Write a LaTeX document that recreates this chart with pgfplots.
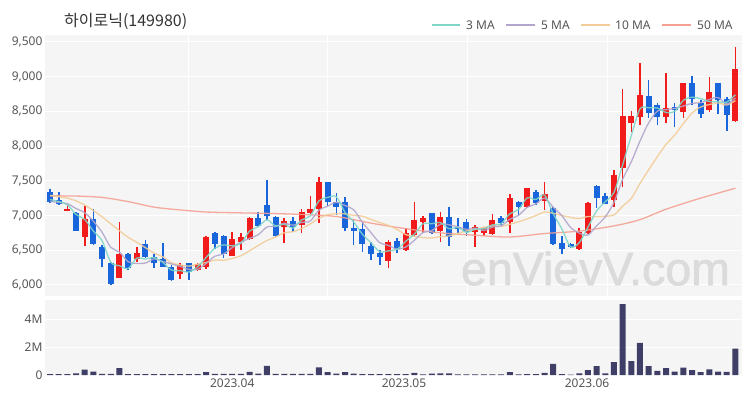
\documentclass[border=0pt]{standalone}
\usepackage{pgfplots}
\pgfplotsset{compat=1.18}
\usepackage{pgfplotstable}
\usepackage{fontspec}
\setmainfont{Noto Sans}
\newfontfamily\krfont{Noto Sans CJK KR}
\newfontfamily\wmfont[FakeBold=1.5]{Liberation Sans}

\definecolor{bgc}{HTML}{F5F5F5}
\definecolor{upc}{HTML}{F21B1B}
\definecolor{dnc}{HTML}{1865DC}
\definecolor{volc}{HTML}{3E3E66}
\definecolor{ma3}{HTML}{7FD6C8}
\definecolor{ma5}{HTML}{B2A6CC}
\definecolor{ma10}{HTML}{F2CC96}
\definecolor{ma50}{HTML}{F4A193}
\definecolor{txt}{HTML}{555555}

% rising days (red)
\pgfplotstableread{
i o h l c
3 7062 7157 7062 7100
5 6696 7138 6567 6947
9 6097 6904 6097 6443
11 6371 6544 6336 6466
16 6155 6313 6083 6289
18 6217 6310 6200 6299
19 6264 6700 6231 6696
22 6418 6768 6418 6659
23 6624 6754 6505 6696
24 6659 6985 6640 6970
28 6832 6961 6610 6922
30 6865 7091 6754 7056
31 7033 7282 7020 7091
32 7091 7560 6898 7488
40 6351 6649 6241 6624
42 6505 6817 6490 6745
43 6721 7192 6700 6937
44 6904 6994 6754 6961
46 6783 7056 6624 6984
50 6768 6865 6552 6840
51 6745 6840 6710 6817
52 6735 7023 6721 6937
54 6912 7311 6754 7249
56 7128 7393 7110 7393
58 7210 7488 7081 7311
62 6515 6817 6505 6768
63 6745 7200 6735 7177
66 7225 7657 7128 7585
67 7681 8819 7416 8434
68 8329 8511 8208 8434
69 8424 9193 8305 8737
72 8416 9058 8329 8545
74 8496 8914 8401 8914
77 8521 8992 8496 8784
80 8367 9424 8352 9107
}\upt

% falling days (blue)
\pgfplotstableread{
i o h l c
1 7344 7383 7182 7200
2 7225 7340 7153 7163
4 7042 7057 6783 6783
6 6947 7091 6572 6591
7 6552 6570 6264 6371
8 6313 6330 6001 6015
10 6443 6460 6217 6250
12 6591 6649 6385 6400
13 6408 6443 6250 6313
14 6371 6610 6256 6256
15 6264 6280 6060 6073
17 6313 6320 6073 6192
20 6754 6768 6519 6591
21 6706 6720 6385 6440
25 6961 7056 6832 6850
26 7153 7513 6937 6994
27 6984 6990 6690 6706
29 6927 6984 6768 6832
33 7488 7488 7138 7200
34 7200 7321 7009 7120
35 7200 7264 6783 6817
36 6817 6947 6577 6783
37 6803 6912 6480 6591
38 6562 6624 6361 6447
39 6457 6505 6289 6400
41 6639 6673 6457 6515
45 7033 7040 6730 6745
47 6976 7120 6562 6696
48 6840 6961 6745 6803
49 6912 6947 6706 6768
53 6961 6990 6870 6889
55 7200 7210 7009 7120
57 7344 7360 7150 7177
59 7105 7120 6580 6591
60 6610 6706 6447 6515
61 6591 6600 6530 6544
64 7426 7440 7105 7249
65 7282 7330 7160 7167
70 8722 8953 8401 8482
71 8593 8617 8305 8424
73 8568 8626 8280 8521
75 8914 9010 8593 8675
76 8617 8665 8401 8463
78 8905 8910 8463 8665
79 8675 8704 8223 8449
}\dnt

\pgfplotstableread{
i m3 m5 m10
1 7230 7200 7290
2 7200 7190 7270
3 7154 7170 7250
4 7015 7100 7210
5 6943 7039 7150
6 6774 6917 7070
7 6636 6758 6980
8 6326 6541 6880
9 6276 6473 6780
10 6236 6334 6686
11 6386 6309 6613
12 6372 6315 6537
13 6393 6374 6458
14 6323 6337 6405
15 6214 6302 6318
16 6206 6266 6288
17 6185 6225 6270
18 6260 6222 6298
19 6396 6310 6323
20 6529 6413 6358
21 6576 6444 6355
22 6563 6537 6381
23 6598 6616 6419
24 6775 6671 6491
25 6839 6723 6568
26 6938 6834 6639
27 6850 6843 6690
28 6874 6888 6752
29 6820 6861 6766
30 6937 6902 6813
31 6993 6921 6878
32 7212 7078 6961
33 7260 7133 7011
34 7269 7191 7026
35 7046 7143 7023
36 6907 7082 7002
37 6730 6902 6990
38 6607 6752 6943
39 6479 6608 6899
40 6490 6569 6856
41 6513 6515 6799
42 6628 6546 6724
43 6732 6644 6698
44 6881 6756 6682
45 6881 6781 6675
46 6897 6874 6695
47 6808 6865 6705
48 6828 6838 6741
49 6756 6799 6778
50 6804 6818 6799
51 6808 6785 6830
52 6865 6833 6849
53 6881 6850 6844
54 7025 6946 6873
55 7086 7002 6910
56 7254 7118 6951
57 7230 7166 6999
58 7294 7250 7050
59 7026 7118 7032
60 6806 6997 7000
61 6550 6828 6973
62 6609 6746 6956
63 6830 6719 6985
64 7065 6851 6985
65 7198 6981 6989
66 7334 7189 7008
67 7729 7522 7134
68 8151 7774 7246
69 8535 8071 7461
70 8551 8334 7658
71 8548 8502 7846
72 8484 8524 8023
73 8497 8542 8158
74 8660 8577 8324
75 8703 8616 8475
76 8684 8624 8563
77 8641 8671 8598
78 8637 8700 8621
79 8633 8607 8592
80 8740 8694 8655
}\mat

\pgfplotstableread{
i m50
1 7282
4 7280
7 7260
10 7200
13 7120
16 7080
19 7050
22 7040
26 7030
30 7015
34 6985
38 6890
42 6810
46 6750
50 6715
54 6690
58 6740
62 6775
66 6850
69 6940
72 7090
76 7250
80 7393
}\mafifty

% volume in millions
\pgfplotstableread{
i v
1 0.06
2 0.06
3 0.06
4 0.12
5 0.38
6 0.25
7 0.08
8 0.08
9 0.50
10 0.06
11 0.06
12 0.06
13 0.06
14 0.06
15 0.06
16 0.06
17 0.06
18 0.06
19 0.20
20 0.08
21 0.08
22 0.08
23 0.08
24 0.22
25 0.10
26 0.65
27 0.08
28 0.08
29 0.08
30 0.08
31 0.08
32 0.55
33 0.20
34 0.10
35 0.20
36 0.10
37 0.06
38 0.06
39 0.06
40 0.06
41 0.06
42 0.06
43 0.15
44 0.04
45 0.10
46 0.12
47 0.12
48 0.05
49 0.05
50 0.04
51 0.05
52 0.04
53 0.05
54 0.20
55 0.05
56 0.06
57 0.06
58 0.15
59 0.80
60 0.06
61 0.03
62 0.12
63 0.35
64 0.63
65 0.12
66 0.92
67 5.07
68 1.00
69 2.30
70 0.63
71 0.30
72 0.50
73 0.25
74 0.53
75 0.35
76 0.20
77 0.40
78 0.25
79 0.22
80 1.88
}\volt

\pgfplotsset{
  panel/.style={
    scale only axis, width=697pt,
    xmin=0.42, xmax=80.76,
    axis background/.style={fill=bgc},
    axis line style={draw=none},
    major tick length=0pt,
    grid style={white, line width=0.9pt},
    tick label style={font=\fontsize{12}{14}\selectfont, text=txt},
    /pgf/number format/assume math mode=true,
  },
  wick/.style={draw=none, mark=none, forget plot,
    error bars/.cd, y dir=both, y explicit, error mark=none,
    error bar style={draw=#1, solid, line width=1.6pt}},
  body/.style={draw=none, mark=none, forget plot,
    error bars/.cd, y dir=both, y explicit, error mark=none,
    error bar style={draw=#1, solid, line width=6pt}},
}

\begin{document}
\begin{tikzpicture}[x=1pt,y=1pt]
\useasboundingbox (0,0) rectangle (750,400);

\begin{axis}[panel, at={(45pt,104pt)}, anchor=south west, height=261pt,
  ymin=5840, ymax=9600,
  ytick={6000,6500,...,9500},
  scaled y ticks=false,
  yticklabel style={/pgf/number format/1000 sep={,}, xshift=1pt},
  xtick={16.9,33,49.1,65.2}, xticklabels={},
  xmajorgrids, ymajorgrids]
  % wicks
  \addplot[wick=upc] table[x=i, y expr=(\thisrow{h}+\thisrow{l})/2,
    y error expr=(\thisrow{h}-\thisrow{l})/2] {\upt};
  \addplot[wick=dnc] table[x=i, y expr=(\thisrow{h}+\thisrow{l})/2,
    y error expr=(\thisrow{h}-\thisrow{l})/2] {\dnt};
  % bodies
  \addplot[body=upc] table[x=i, y expr=(\thisrow{o}+\thisrow{c})/2,
    y error expr={max(abs(\thisrow{c}-\thisrow{o})/2,12)}] {\upt};
  \addplot[body=dnc] table[x=i, y expr=(\thisrow{o}+\thisrow{c})/2,
    y error expr={max(abs(\thisrow{c}-\thisrow{o})/2,12)}] {\dnt};
  % moving averages
  \addplot[ma50, line width=1.3pt, smooth, no marks, opacity=0.9] table[x=i, y=m50] {\mafifty};
  \addplot[ma10, line width=1.3pt, smooth, no marks, opacity=0.9] table[x=i, y=m10] {\mat};
  \addplot[ma5, line width=1.3pt, smooth, no marks, opacity=0.9] table[x=i, y=m5] {\mat};
  \addplot[ma3, line width=1.3pt, smooth, no marks, opacity=0.9] table[x=i, y=m3] {\mat};
\end{axis}

\begin{axis}[panel, at={(45pt,25pt)}, anchor=south west, height=75pt,
  ymin=0, ymax=5.36,
  ytick={0,2,4}, yticklabels={0,2M,4M},
  yticklabel style={xshift=1pt},
  xtick={22,41.8,62.9}, xticklabels={2023.04,2023.05,2023.06},
  ymajorgrids]
  \addplot[ybar, bar width=6pt, fill=volc, draw=none] table[x=i, y=v] {\volt};
\end{axis}

% title
\node[anchor=west, text=black!80, inner sep=0pt] at (64,379)
  {\krfont\fontsize{16}{18}\selectfont 하이로닉(149980)};

% legend
\begin{scope}[every node/.style={anchor=west, inner sep=0pt, text=txt,
    font=\fontsize{12}{14}\selectfont}]
  \draw[ma3, line width=1.5pt] (432,375) -- (460,375);
  \node at (466,375) {3 MA};
  \draw[ma5, line width=1.5pt] (506,375) -- (535,375);
  \node at (541,375) {5 MA};
  \draw[ma10, line width=1.5pt] (581,375) -- (610,375);
  \node at (615,375) {10 MA};
  \draw[ma50, line width=1.5pt] (662,375) -- (691,375);
  \node at (697,375) {50 MA};
\end{scope}

% watermark
\node[anchor=base, inner sep=0pt, text=black!14] at (595.5,115)
  {\wmfont\fontsize{46.5}{46.5}\selectfont enVievV.com};
\end{tikzpicture}
\end{document}
